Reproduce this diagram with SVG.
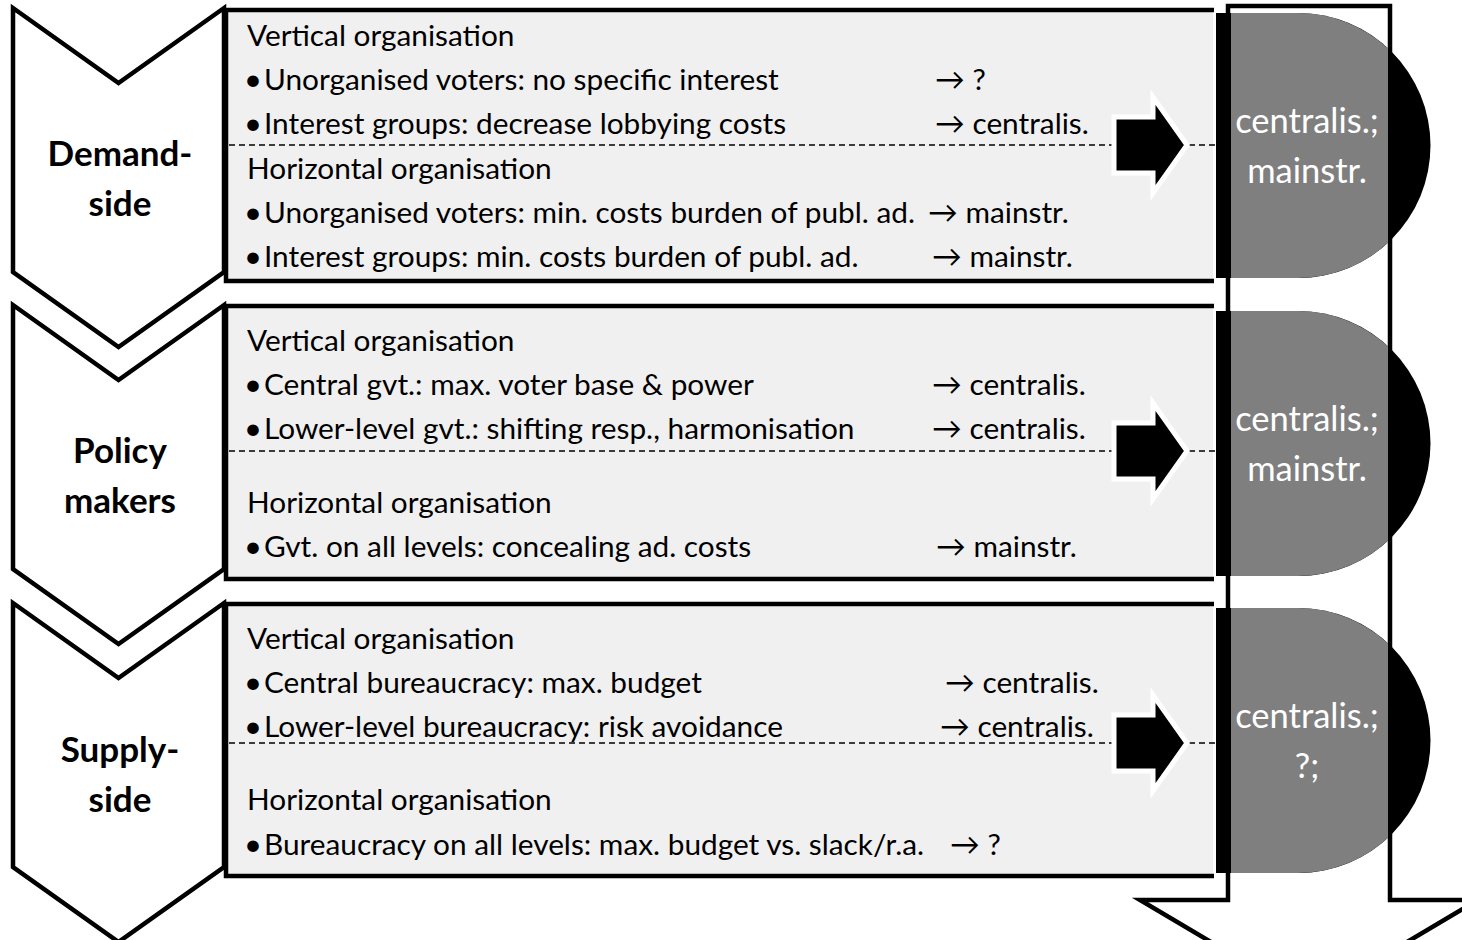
<svg xmlns="http://www.w3.org/2000/svg" width="1462" height="940" viewBox="0 0 1462 940">
  <defs>
    <style>
      .chev{fill:#fff;stroke:#000;stroke-width:4.5;stroke-linejoin:miter}
      .box{fill:#f0f0f0;stroke:#fff;stroke-width:2}
      .frame{fill:none;stroke:#000;stroke-width:4.5}
      .div{fill:none;stroke:#000;stroke-width:1.4;stroke-dasharray:6 4}
      .t{font-family:Lato,"Liberation Sans",sans-serif;font-size:29.8px;fill:#000}
      .b{font-size:31px}
      .h{font-family:Lato,"Liberation Sans",sans-serif;font-weight:bold;font-size:35px;fill:#000;text-anchor:middle}
      .r{font-family:Lato,"Liberation Sans",sans-serif;font-size:34.5px;fill:#fff;text-anchor:middle}
      .blk{fill:#000;stroke:#fff;stroke-width:5;stroke-linejoin:miter}
      .shaft{fill:#fff;stroke:#000;stroke-width:4.5}
      .dark{fill:#000}
      .mid{fill:#7f7f7f}
    </style>
  </defs>
  <rect width="1462" height="940" fill="#fff"/>

  <!-- downward flow arrow behind the result shapes -->
  <g id="flow-arrow">
    <path class="shaft" d="M1228,6 H1390 V900 H1478 L1309,1000 L1140,900 H1228 Z"/>
  </g>

  <!-- left chevrons -->
  <g id="chevron-demand">
    <path class="chev" d="M13,8 L118.5,83 L224,8 V272 L118.5,347 L13,272 Z"/>
    <text class="h" x="120" y="166">Demand-</text>
    <text class="h" x="120" y="216">side</text>
  </g>
  <g id="chevron-policy">
    <path class="chev" d="M13,305 L118.5,380 L224,305 V569 L118.5,644 L13,569 Z"/>
    <text class="h" x="120" y="463">Policy</text>
    <text class="h" x="120" y="513">makers</text>
  </g>
  <g id="chevron-supply">
    <path class="chev" d="M13,603 L118.5,678 L224,603 V867 L118.5,942 L13,867 Z"/>
    <text class="h" x="120" y="762">Supply-</text>
    <text class="h" x="120" y="812">side</text>
  </g>

  <!-- content boxes -->
  <g id="box-demand">
    <rect class="box" x="226" y="10" width="988" height="271"/>
    <path class="frame" d="M1214,10 H226 V281 H1214"/>
    <line class="div" x1="229" y1="145" x2="1216" y2="145"/>
    <text class="t" x="247" y="46">Vertical organisation</text>
    <text class="t" y="90"><tspan class="b" x="244">•</tspan><tspan x="264">Unorganised voters: no specific interest</tspan><tspan x="935">→ ?</tspan></text>
    <text class="t" y="134"><tspan class="b" x="244">•</tspan><tspan x="264">Interest groups: decrease lobbying costs</tspan><tspan x="935">→ centralis.</tspan></text>
    <text class="t" x="247" y="179">Horizontal organisation</text>
    <text class="t" y="223"><tspan class="b" x="244">•</tspan><tspan x="264">Unorganised voters: min. costs burden of publ. ad.</tspan><tspan x="928">→ mainstr.</tspan></text>
    <text class="t" y="267"><tspan class="b" x="244">•</tspan><tspan x="264">Interest groups: min. costs burden of publ. ad.</tspan><tspan x="932">→ mainstr.</tspan></text>
  </g>
  <g id="box-policy">
    <rect class="box" x="226" y="306" width="988" height="273"/>
    <path class="frame" d="M1214,306 H226 V579 H1214"/>
    <line class="div" x1="229" y1="451" x2="1216" y2="451"/>
    <text class="t" x="247" y="351">Vertical organisation</text>
    <text class="t" y="395"><tspan class="b" x="244">•</tspan><tspan x="264">Central gvt.: max. voter base &amp; power</tspan><tspan x="932">→ centralis.</tspan></text>
    <text class="t" y="439"><tspan class="b" x="244">•</tspan><tspan x="264">Lower-level gvt.: shifting resp., harmonisation</tspan><tspan x="932">→ centralis.</tspan></text>
    <text class="t" x="247" y="513">Horizontal organisation</text>
    <text class="t" y="557"><tspan class="b" x="244">•</tspan><tspan x="264">Gvt. on all levels: concealing ad. costs</tspan><tspan x="936">→ mainstr.</tspan></text>
  </g>
  <g id="box-supply">
    <rect class="box" x="226" y="604" width="988" height="272"/>
    <path class="frame" d="M1214,604 H226 V876 H1214"/>
    <line class="div" x1="229" y1="743" x2="1216" y2="743"/>
    <text class="t" x="247" y="649">Vertical organisation</text>
    <text class="t" y="693"><tspan class="b" x="244">•</tspan><tspan x="264">Central bureaucracy: max. budget</tspan><tspan x="945">→ centralis.</tspan></text>
    <text class="t" y="737"><tspan class="b" x="244">•</tspan><tspan x="264">Lower-level bureaucracy: risk avoidance</tspan><tspan x="940">→ centralis.</tspan></text>
    <text class="t" x="247" y="810">Horizontal organisation</text>
    <text class="t" y="855"><tspan class="b" x="244">•</tspan><tspan x="264">Bureaucracy on all levels: max. budget vs. slack/r.a.</tspan><tspan x="950">→ ?</tspan></text>
  </g>

  <!-- result shapes: black half-disc with grey body inside the flow arrow -->
  <g id="result-demand">
    <path class="dark" d="M1216,13 H1298 A132.5,132.5 0 0 1 1298,278 H1216 Z"/>
    <path class="mid" d="M1231,13 H1298 A132.5,132.5 0 0 1 1388,48.3 V242.7 A132.5,132.5 0 0 1 1298,278 H1231 Z"/>
    <text class="r" x="1307" y="133">centralis.;</text>
    <text class="r" x="1307" y="183">mainstr.</text>
  </g>
  <g id="result-policy">
    <path class="dark" d="M1216,311 H1298 A132.5,132.5 0 0 1 1298,576 H1216 Z"/>
    <path class="mid" d="M1231,311 H1298 A132.5,132.5 0 0 1 1388,346.3 V540.7 A132.5,132.5 0 0 1 1298,576 H1231 Z"/>
    <text class="r" x="1307" y="431">centralis.;</text>
    <text class="r" x="1307" y="481">mainstr.</text>
  </g>
  <g id="result-supply">
    <path class="dark" d="M1216,608 H1298 A132.5,132.5 0 0 1 1298,873 H1216 Z"/>
    <path class="mid" d="M1231,608 H1298 A132.5,132.5 0 0 1 1388,643.3 V837.7 A132.5,132.5 0 0 1 1298,873 H1231 Z"/>
    <text class="r" x="1307" y="728">centralis.;</text>
    <text class="r" x="1307" y="778">?;</text>
  </g>

  <!-- block arrows from each box to its result -->
  <g id="connectors">
    <path class="blk" d="M1114,117 H1153 V97 L1187,145 L1153,193 V173 H1114 Z"/>
    <path class="blk" d="M1114,423 H1153 V403 L1187,451 L1153,499 V479 H1114 Z"/>
    <path class="blk" d="M1114,715 H1153 V695 L1187,743 L1153,791 V771 H1114 Z"/>
  </g>
</svg>
